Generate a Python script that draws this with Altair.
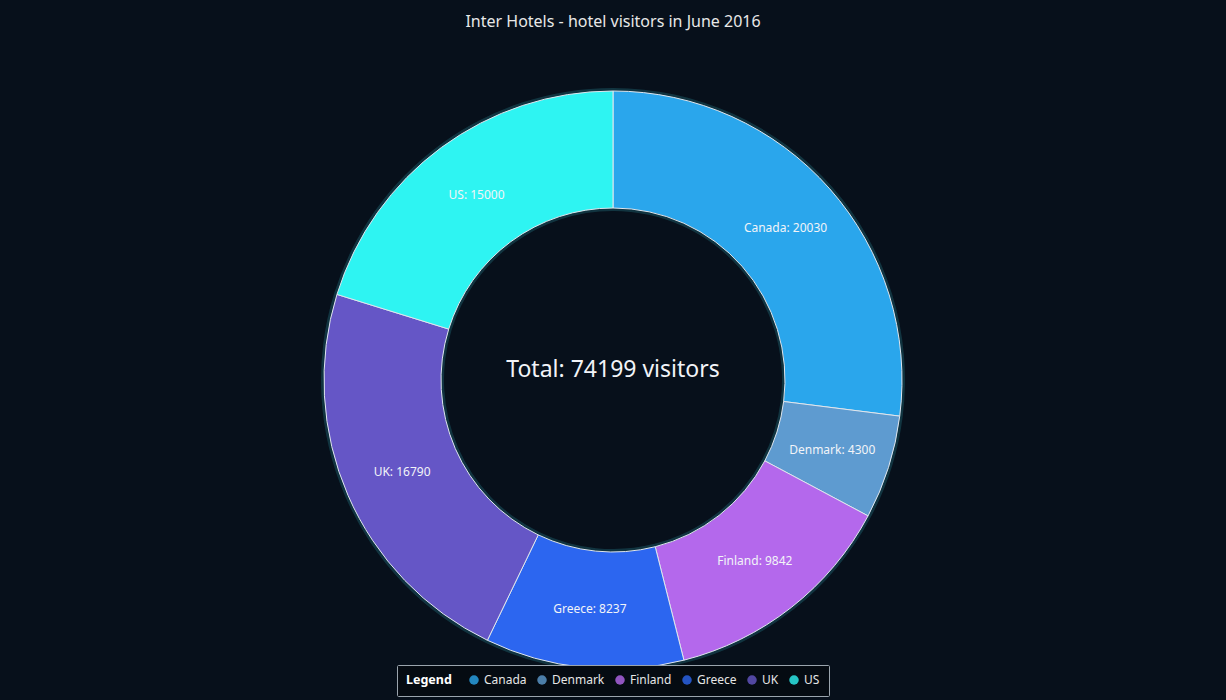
import altair as alt
import pandas as pd

countries = ["Canada", "Denmark", "Finland", "Greece", "UK", "US"]
visitors = [20030, 4300, 9842, 8237, 16790, 15000]
colors = ["#2aa6ec", "#5e9bd0", "#b468ec", "#2c66f0", "#6556c6", "#2ef4f2"]
title_text = "Inter Hotels - hotel visitors in June 2016"

df = pd.DataFrame({"country": countries, "visitors": visitors, "idx": list(range(len(countries)))})

FONT = "Noto Sans"
CX, CY = 613, 380

base = alt.Chart(df)

color_enc = alt.Color(
    "country:N",
    scale=alt.Scale(domain=countries, range=colors),
    legend=alt.Legend(
        title="Legend",
        orient="none",
        legendX=397,
        legendY=665,
        direction="horizontal",
        titleOrient="left",
        titleColor="#ffffff",
        titleFont=FONT,
        titleFontSize=12.5,
        titleFontWeight="bold",
        titlePadding=16,
        labelColor="#e6e6e6",
        labelFont=FONT,
        labelFontSize=12,
        labelOffset=4,
        symbolType="circle",
        symbolSize=90,
        symbolStrokeWidth=0,
        symbolOpacity=0.8,
        columnPadding=9,
        fillColor="#050b12",
        strokeColor="#9aa4ad",
        padding=9,
        cornerRadius=1,
    ),
)

glow = base.mark_arc(radius=292, radius2=169, color="#3cc8d8", opacity=0.2).encode(
    theta=alt.Theta("visitors:Q", stack=True),
    order=alt.Order("idx:Q"),
    x=alt.value(CX),
    y=alt.value(CY),
)

arcs = base.mark_arc(radius=289, radius2=172, stroke="#dfe6ee", strokeWidth=1).encode(
    theta=alt.Theta("visitors:Q", stack=True),
    color=color_enc,
    order=alt.Order("idx:Q"),
    x=alt.value(CX),
    y=alt.value(CY),
)

labels = base.transform_calculate(
    label="datum.country + ': ' + datum.visitors"
).mark_text(radius=230, font=FONT, fontSize=12, color="#f2f4f8").encode(
    theta=alt.Theta("visitors:Q", stack=True),
    order=alt.Order("idx:Q"),
    text="label:N",
    x=alt.value(CX),
    y=alt.value(CY),
)

total = base.transform_aggregate(
    total="sum(visitors)"
).transform_calculate(
    label="'Total: ' + datum.total + ' visitors'"
).mark_text(font=FONT, fontSize=23, color="#f2f4f8").encode(
    text="label:N",
    x=alt.value(CX),
    y=alt.value(370),
)

chart = alt.layer(glow, arcs, labels, total).properties(
    width=1226,
    height=700,
    autosize=alt.AutoSizeParams(type="none"),
    padding=0,
    background="#07101b",
    title=alt.Title(
        title_text,
        color="#e8e8e8",
        font=FONT,
        fontSize=16,
        fontWeight="normal",
        anchor="middle",
        baseline="top",
        offset=0,
        dy=30,
    ),
).configure_view(strokeWidth=0, fill=None)

chart.save("out.html", embed_options={"renderer": "svg", "actions": False})
